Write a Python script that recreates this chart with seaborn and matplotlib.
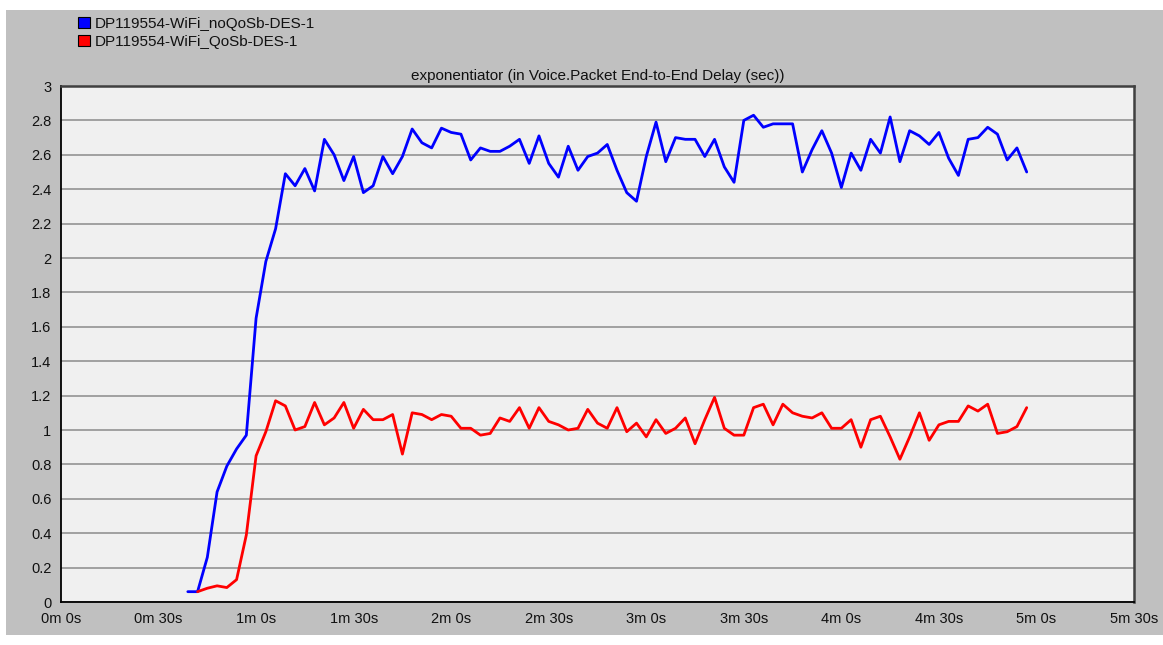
import matplotlib
matplotlib.use("Agg")
import matplotlib.pyplot as plt
from matplotlib.patches import Patch, Rectangle
import seaborn as sns
import pandas as pd

# sample times (seconds) and delay values
t_noqos = [39, 42, 45, 48, 51, 54, 57, 60, 63, 66, 69, 72, 75, 78, 81, 84, 87, 90,
           93, 96, 99, 102, 105, 108, 111, 114, 117, 120, 123, 126, 129, 132, 135,
           138, 141, 144, 147, 150, 153, 156, 159, 162, 165, 168, 171, 174, 177,
           180, 183, 186, 189, 192, 195, 198, 201, 204, 207, 210, 213, 216, 219,
           222, 225, 228, 231, 234, 237, 240, 243, 246, 249, 252, 255, 258, 261,
           264, 267, 270, 273, 276, 279, 282, 285, 288, 291, 294, 297]
delay_noqos = [0.06, 0.06, 0.26, 0.64, 0.79, 0.89, 0.97, 1.65, 1.98, 2.17, 2.49, 2.42,
               2.52, 2.39, 2.69, 2.60, 2.45, 2.59, 2.38, 2.42, 2.59, 2.49, 2.59, 2.75,
               2.67, 2.64, 2.755, 2.73, 2.72, 2.57, 2.64, 2.62, 2.62, 2.65, 2.69, 2.55,
               2.71, 2.55, 2.47, 2.65, 2.51, 2.59, 2.61, 2.66, 2.51, 2.38, 2.33, 2.59,
               2.79, 2.56, 2.70, 2.69, 2.69, 2.59, 2.69, 2.53, 2.44, 2.80, 2.83, 2.76,
               2.78, 2.78, 2.78, 2.50, 2.63, 2.74, 2.61, 2.41, 2.61, 2.51, 2.69, 2.61,
               2.82, 2.56, 2.74, 2.71, 2.66, 2.73, 2.58, 2.48, 2.69, 2.70, 2.76, 2.72,
               2.57, 2.64, 2.50]

t_qos = t_noqos[1:]
delay_qos = [0.06, 0.08, 0.094, 0.084, 0.13, 0.39, 0.85, 0.99, 1.17, 1.14, 1.00, 1.02,
             1.16, 1.03, 1.07, 1.16, 1.01, 1.12, 1.06, 1.06, 1.09, 0.86, 1.10, 1.09,
             1.06, 1.09, 1.08, 1.01, 1.01, 0.97, 0.98, 1.07, 1.05, 1.13, 1.01, 1.13,
             1.05, 1.03, 1.00, 1.01, 1.12, 1.04, 1.01, 1.13, 0.99, 1.04, 0.96, 1.06,
             0.98, 1.01, 1.07, 0.92, 1.06, 1.19, 1.01, 0.97, 0.97, 1.13, 1.15, 1.03,
             1.15, 1.10, 1.08, 1.07, 1.10, 1.01, 1.01, 1.06, 0.90, 1.06, 1.08, 0.96,
             0.83, 0.96, 1.10, 0.94, 1.03, 1.05, 1.05, 1.14, 1.11, 1.15, 0.98, 0.99,
             1.02, 1.13]

names = ["DP119554-WiFi_noQoSb-DES-1", "DP119554-WiFi_QoSb-DES-1"]
colors = ["#0000ff", "#ff0000"]
title = "exponentiator (in Voice.Packet End-to-End Delay (sec))"
x_ticks = list(range(0, 331, 30))
y_ticks = [0, 0.2, 0.4, 0.6, 0.8, 1, 1.2, 1.4, 1.6, 1.8, 2, 2.2, 2.4, 2.6, 2.8, 3]

df = pd.concat([
    pd.DataFrame({"time": t_noqos, "delay": delay_noqos, "series": names[0]}),
    pd.DataFrame({"time": t_qos, "delay": delay_qos, "series": names[1]}),
])

sns.set_style("white")
plt.rcParams["font.family"] = ["Liberation Sans", "DejaVu Sans"]

W, H = 1163, 645
fig = plt.figure(figsize=(W / 100, H / 100), dpi=100, facecolor="white")
# grey panel behind everything (screenshot has a thin white border top/left/bottom)
fig.patches.append(Rectangle((6 / W, 10 / H), 1, (635 - 10) / H, transform=fig.transFigure,
                             facecolor="#c0c0c0", edgecolor="none", zorder=-10))

ax = fig.add_axes([61 / W, 1 - 602 / H, (1134 - 61) / W, (602 - 86) / H])
ax.set_facecolor("#f0f0f0")

sns.lineplot(data=df, x="time", y="delay", hue="series", palette=colors,
             linewidth=2.0, legend=False, ax=ax, zorder=3)

ax.set_xlim(0, 330)
ax.set_ylim(0, 3)
ax.set_xticks(x_ticks)
ax.set_xticklabels([f"{s // 60}m {s % 60}s" for s in x_ticks])
ax.set_yticks(y_ticks)
ax.set_yticklabels([f"{v:g}" for v in y_ticks])
ax.grid(axis="y", color="#a0a0a0", linewidth=1.4, zorder=1)
ax.set_axisbelow(True)
ax.tick_params(axis="both", direction="out", length=5, width=1, color="black",
               labelsize=10.5, labelcolor="#111111", pad=2)
for side in ["left", "bottom"]:
    ax.spines[side].set_color("black")
    ax.spines[side].set_linewidth(1.3)
for side in ["top", "right"]:
    ax.spines[side].set_color("#404040")
    ax.spines[side].set_linewidth(1.8)
ax.set_xlabel("")
ax.set_ylabel("")
ax.set_title(title, fontsize=11, color="#111111", pad=4)

handles = [Patch(facecolor=c, edgecolor="black", linewidth=0.8) for c in colors]
fig.legend(handles, names, loc="upper left", bbox_to_anchor=(72 / W, 1 - 11 / H),
           frameon=False, fontsize=11, handlelength=0.75, handleheight=0.75,
           handletextpad=0.35, labelspacing=0.25, borderaxespad=0, labelcolor="#111111")

fig.savefig("out.png", dpi=100, facecolor=fig.get_facecolor())
